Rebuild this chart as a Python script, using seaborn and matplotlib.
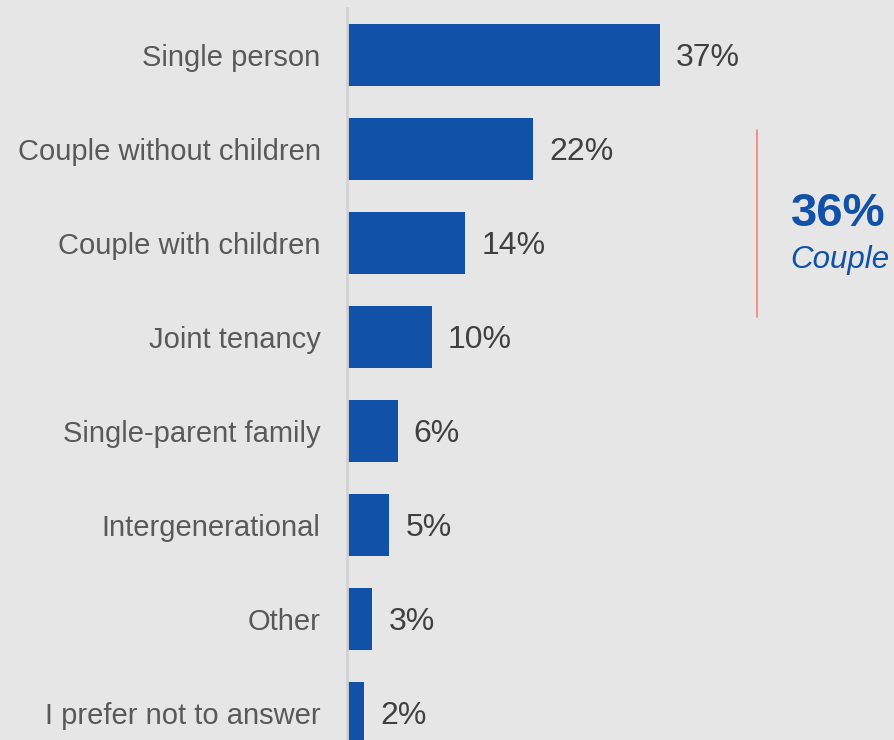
import matplotlib
matplotlib.use("Agg")
import matplotlib.pyplot as plt
import seaborn as sns
import pandas as pd

categories = [
    "Single person",
    "Couple without children",
    "Couple with children",
    "Joint tenancy",
    "Single-parent family",
    "Intergenerational",
    "Other",
    "I prefer not to answer",
]
shares = [37, 22, 14, 10, 6, 5, 3, 2]
couple_total = 36
couple_label = "Couple"

df = pd.DataFrame({"category": categories, "share": shares})

BG = "#e6e6e6"
BLUE = "#1151a8"

sns.set_theme(style="white")
plt.rcParams["font.family"] = ["Liberation Sans", "DejaVu Sans"]

fig = plt.figure(figsize=(8.95, 7.4), dpi=100, facecolor=BG)
ax = fig.add_axes([347 / 895, 0, 1 - 347 / 895, 732 / 740])
ax.set_facecolor(BG)

sns.barplot(data=df, x="share", y="category", order=categories,
            color=BLUE, saturation=1, width=0.66, linewidth=0, ax=ax)

for i, v in enumerate(shares):
    ax.annotate(f"{v}%", xy=(v, i), xytext=(11.5, -2.5), textcoords="offset points",
                ha="left", va="center", fontsize=23, color="#404040")

ax.set_xlim(0, 64.8)
ax.set_ylim(7.287, -0.5)
ax.set_xlabel("")
ax.set_ylabel("")
ax.set_xticks([])
ax.tick_params(axis="y", length=0, pad=19, labelsize=21, labelcolor="#595959")

for side in ["top", "right", "bottom"]:
    ax.spines[side].set_visible(False)
ax.spines["left"].set_color("#d2d2d2")
ax.spines["left"].set_linewidth(2)

# bracket marking the two couple categories
ax.plot([48.5, 48.5], [0.80, 2.79], color="#ff7a7a", lw=1.2, clip_on=False)
ax.text(58.1, 1.69, f"{couple_total}%", ha="center", va="center",
        fontsize=34, fontweight="bold", color=BLUE)
ax.text(58.3, 2.18, couple_label, ha="center", va="center",
        fontsize=22.5, fontstyle="italic", color=BLUE)

fig.savefig("out.png", dpi=100, facecolor=BG)
